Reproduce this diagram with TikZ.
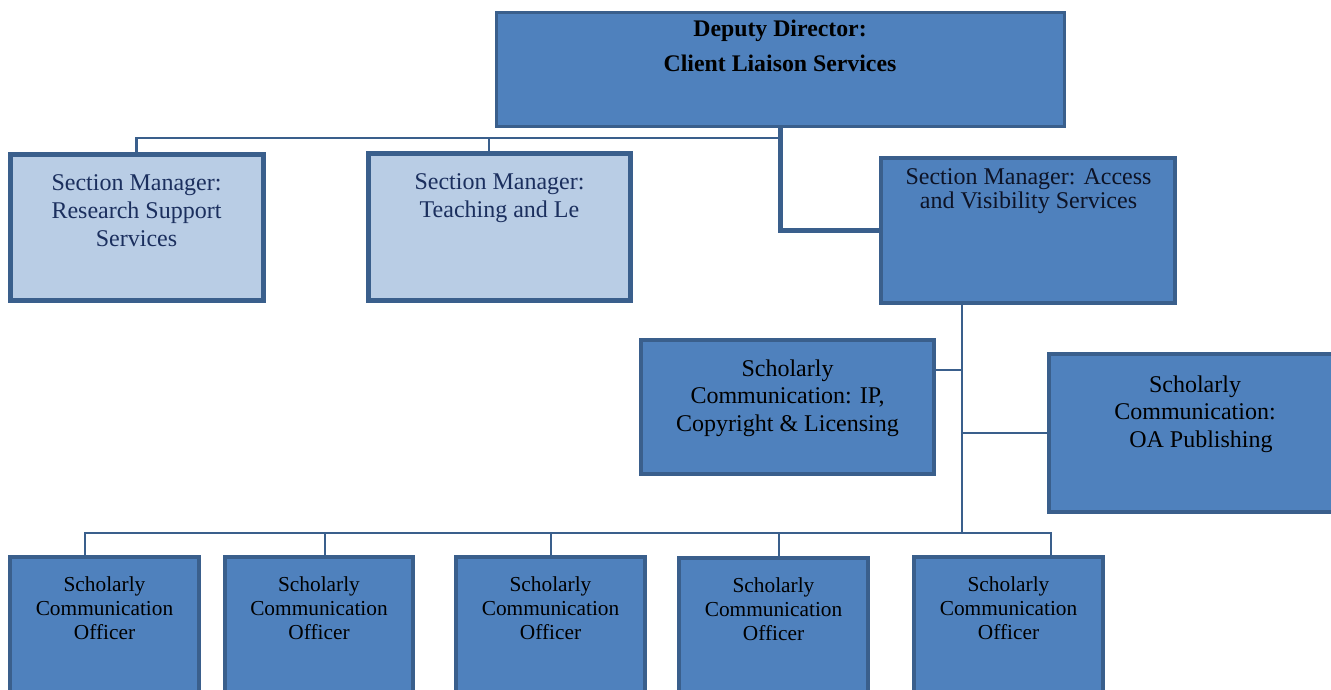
\documentclass[tikz,border=0pt]{standalone}
\usepackage{fontspec}
\setmainfont{Liberation Serif}
\usetikzlibrary{fit}
\definecolor{boxblue}{HTML}{4F81BD}
\definecolor{boxlight}{HTML}{B9CDE5}
\definecolor{edgeblue}{HTML}{3A5F8C}
\definecolor{navytext}{HTML}{1B2F5E}
\definecolor{darktext}{HTML}{0D1326}
\begin{document}
\begin{tikzpicture}[x=0.75pt,y=-0.75pt,
  box/.style={draw=edgeblue, fill=boxblue, inner sep=0pt, line width=3pt},
  lightbox/.style={box, fill=boxlight, line width=3.75pt},
  topbox/.style={box, line width=2.25pt},
  conthin/.style={draw=edgeblue, line width=1.9pt},
  conthick/.style={draw=edgeblue, line width=3.75pt},
  toptxt/.style={anchor=north, inner sep=0pt, align=center, font=\fontsize{17.85}{26.25}\selectfont\bfseries},
  mgrtxt/.style={anchor=north, inner sep=0pt, align=center, text=navytext, font=\fontsize{18}{21}\selectfont},
  midtxt/.style={anchor=north, inner sep=0pt, align=center, font=\fontsize{18}{20.6}\selectfont},
  offtxt/.style={anchor=north, inner sep=0pt, align=center, font=\fontsize{16}{18}\selectfont}]
\clip (0,0) rectangle (1331,689);
% boxes
\node[topbox, fit={(496,12) (1064,126)}] (dd) {};
\node[lightbox, fit={(10,154) (263,300)}] (rs) {};
\node[lightbox, fit={(368,153) (630,300)}] (tl) {};
\node[box, line width=3.2pt, fit={(881,158) (1175,303)}] (av) {};
\node[box, fit={(641,340) (934,474)}] (ip) {};
\node[box, fit={(1049,354) (1341,512)}] (oa) {};
\node[box, fit={(10,557) (199,740)}] (o1) {};
\node[box, fit={(225,557) (413,740)}] (o2) {};
\node[box, fit={(456,557) (645,740)}] (o3) {};
\node[box, fit={(679,558) (868,740)}] (o4) {};
\node[box, fit={(914,557) (1103,740)}] (o5) {};
% texts
\node[toptxt] (ddt) at (780,19.5) {Deputy Director:\\Client Liaison Services};
\node[mgrtxt] (rst) at (136.5,174) {Section Manager:\\Research Support\\Services};
\node[mgrtxt] (tlt) at (499.5,173) {Section Manager:\\Teaching and Le};
\node[mgrtxt, text=darktext, font=\fontsize{18}{18}\selectfont] (avt) at (1028.5,168.5) {Section Manager: Access\\and Visibility Services};
\node[midtxt] (ipt) at (787.5,359.5) {Scholarly\\Communication: IP,\\Copyright \& Licensing};
\node[midtxt] (oat) at (1195,375.5) {Scholarly\\Communication:\\\hspace*{0.5em}OA Publishing};
\foreach \n in {o1,o2,o3,o4,o5}{
  \node[offtxt] (\n t) at ([yshift=-16pt]\n.north) {Scholarly\\Communication\\Officer};
}
% connectors
\coordinate (topbus) at (780,138);
\coordinate (tltick) at (489,138);
\coordinate (spine) at (962,533);
\coordinate (ipj) at (962,370);
\coordinate (busL) at (85,533);
\coordinate (busR) at (1051,533);
\coordinate (t2) at (325,533);
\coordinate (t3) at (551,533);
\coordinate (t4) at (779,533);
\draw[conthick] (dd.south) -- (dd.south |- av.west) -- (av.west);
\draw[conthin] (rs.north) |- (topbus);
\draw[conthin] (tltick) -- (tltick |- tl.north);
\draw[conthin] (av.south -| spine) -- (spine);
\draw[conthin] (ipj) -- (ipj -| ip.east);
\draw[conthin] (oa.west) -- (oa.west -| spine);
\draw[conthin] (busL |- o1.north) -- (busL) -- (busR) -- (busR |- o5.north);
\draw[conthin] (t2) -- (t2 |- o2.north);
\draw[conthin] (t3) -- (t3 |- o3.north);
\draw[conthin] (t4) -- (t4 |- o4.north);
\end{tikzpicture}
\end{document}
